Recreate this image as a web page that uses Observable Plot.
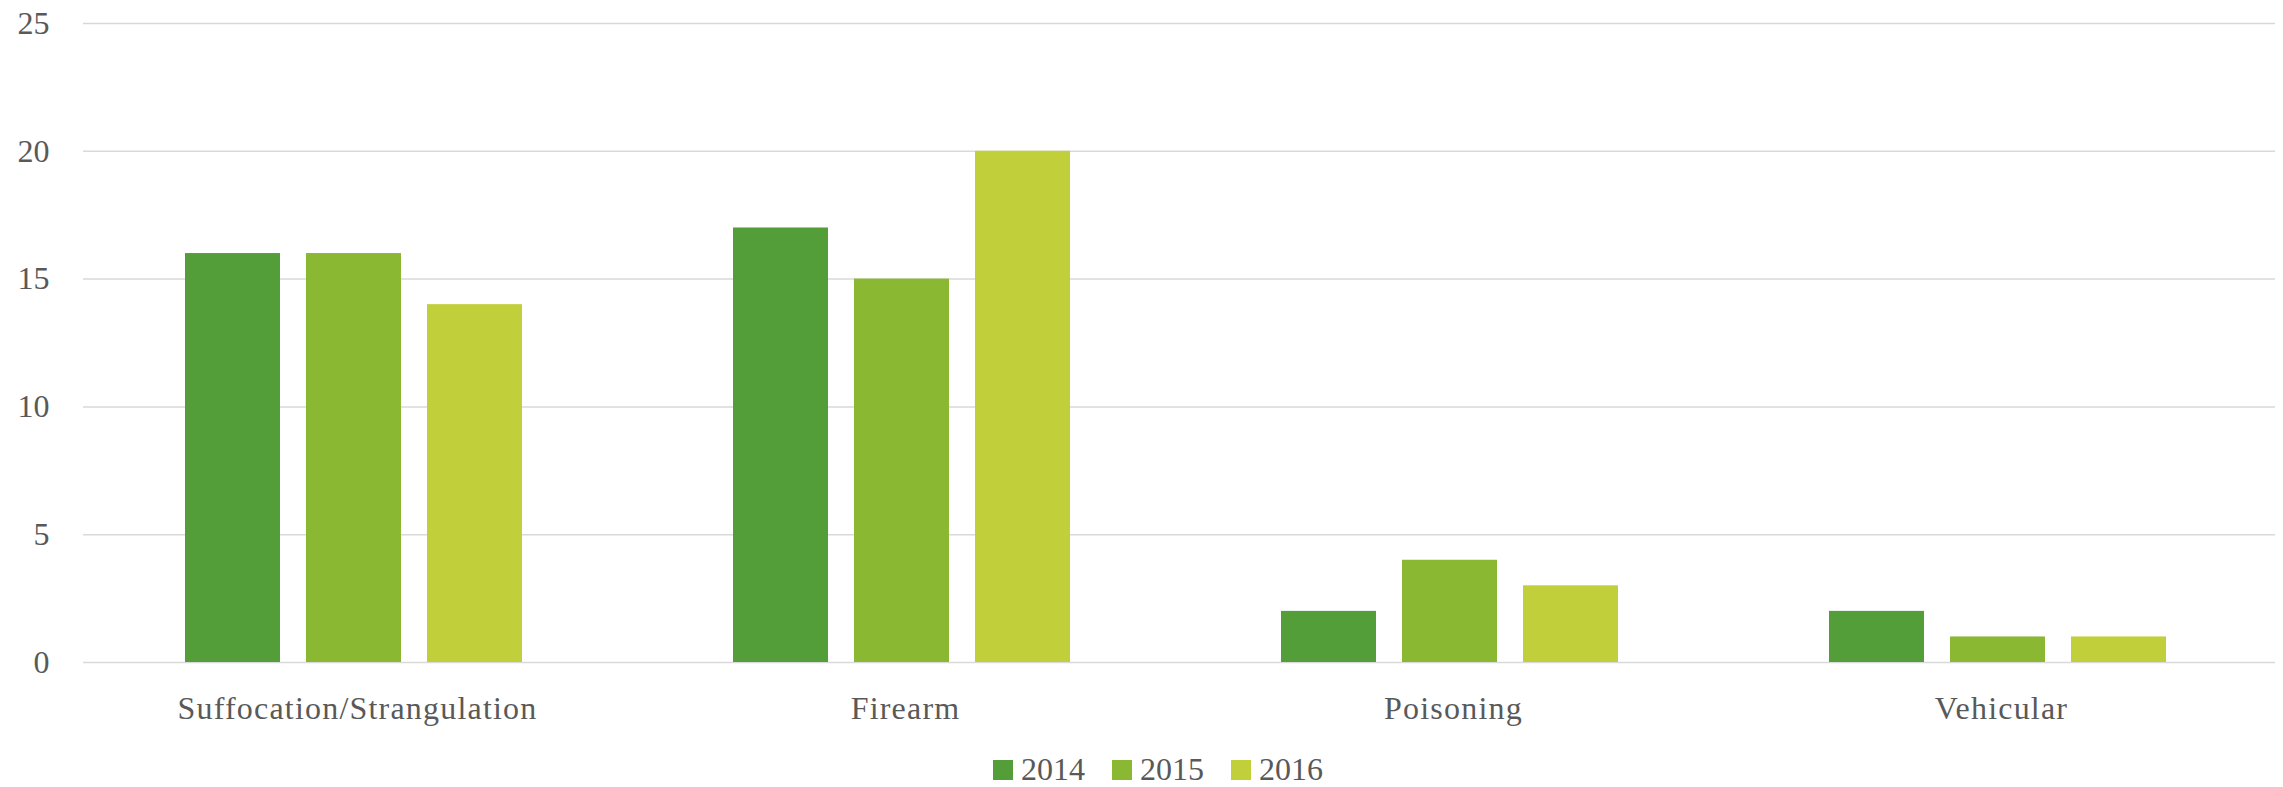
<!DOCTYPE html>
<html>
<head>
<meta charset="utf-8">
<script src="https://cdn.jsdelivr.net/npm/d3@7"></script>
<script src="https://cdn.jsdelivr.net/npm/@observablehq/plot@0.6"></script>
<style>
  html, body { margin: 0; padding: 0; background: #fff; }
  #wrap { position: relative; width: 2283px; height: 787px; overflow: hidden; }
  #chart svg { display: block; }
  g[aria-label="fx-axis tick label"] text { letter-spacing: 1.2px; }
  #legend { position: absolute; left: 993px; top: 751px; }
  #legend .leg-swatch { margin-right: 27px !important; }
  #legend .leg-swatch > svg { margin-right: 8px !important; }
</style>
</head>
<body>
<div id="wrap">
  <div id="chart"></div>
  <div id="legend"></div>
</div>
<script>
const categories = ["Suffocation/Strangulation", "Firearm", "Poisoning", "Vehicular"];
const years = ["2014", "2015", "2016"];
const values2014 = [16, 17, 2, 2];
const values2015 = [16, 15, 4, 1];
const values2016 = [14, 20, 3, 1];
const yTicks = [0, 5, 10, 15, 20, 25];
const colors = ["#549E39", "#8AB833", "#C0CF3A"];

const series = [values2014, values2015, values2016];
const data = [];
categories.forEach((c, i) => {
  years.forEach((y, j) => data.push({category: c, year: y, value: series[j][i]}));
});

const chart = Plot.plot({
  width: 2283,
  height: 745,
  marginLeft: 81,
  marginRight: 7,
  marginTop: 23,
  marginBottom: 83,
  style: {fontFamily: "'Liberation Serif', serif", fontSize: "32px", color: "#595959", background: "#fff"},
  fx: {domain: categories, padding: 0, label: null, tickSize: 0, tickPadding: 34},
  x: {domain: years, paddingInner: 0.215, paddingOuter: 0.87, align: 0.485, axis: null},
  y: {domain: [0, 25], ticks: yTicks, label: null, tickSize: 0, tickPadding: 34},
  color: {domain: years, range: colors},
  marks: [
    Plot.gridY(yTicks, {stroke: "#D9D9D9", strokeOpacity: 1, strokeWidth: 1.5}),
    Plot.barY(data, {fx: "category", x: "year", y: "value", fill: "year"})
  ]
});
document.getElementById("chart").appendChild(chart);

const legend = Plot.legend({
  color: {domain: years, range: colors},
  swatchSize: 20,
  className: "leg",
  style: {fontFamily: "'Liberation Serif', serif", fontSize: "32px", color: "#595959"}
});
document.getElementById("legend").appendChild(legend);
</script>
</body>
</html>
